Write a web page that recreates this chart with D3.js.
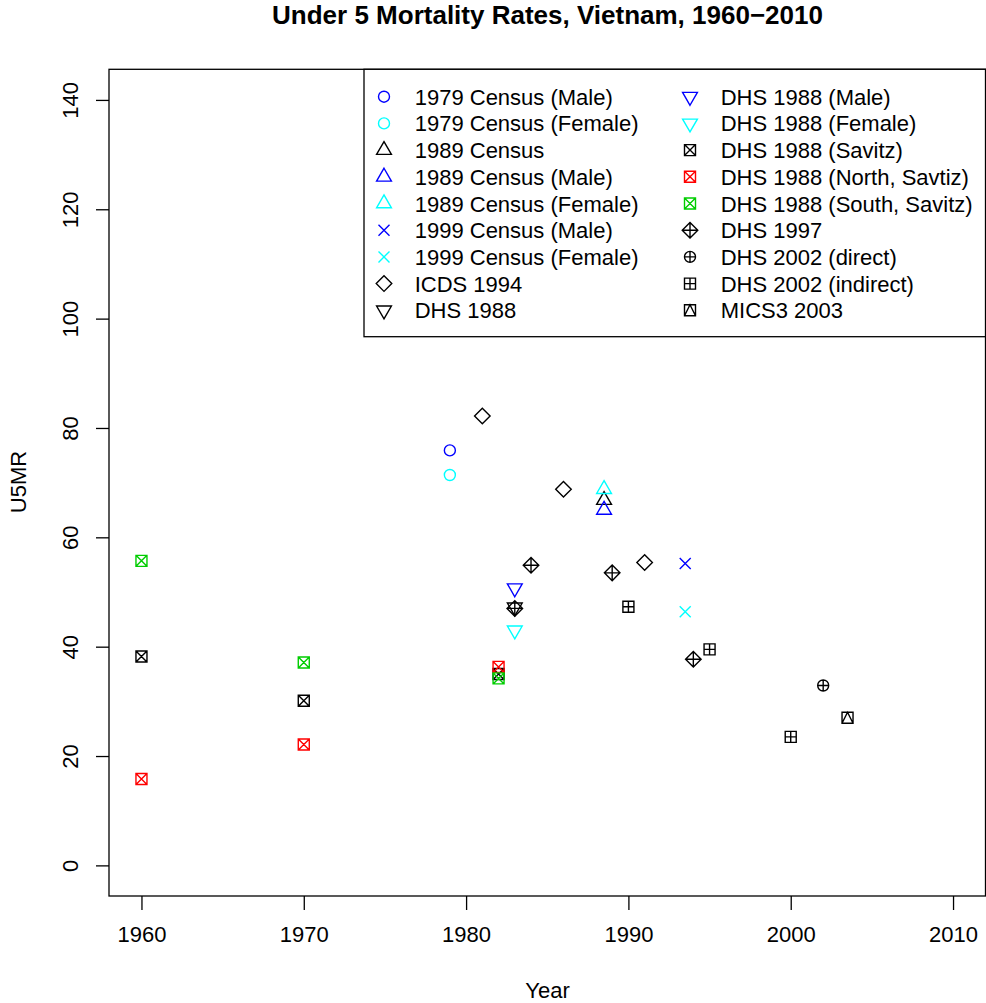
<!DOCTYPE html>
<html>
<head>
<meta charset="UTF-8">
<title>Under 5 Mortality Rates, Vietnam</title>
<script src="https://cdn.jsdelivr.net/npm/d3@7"></script>
<style>
  body { margin: 0; background: #fff; }
  svg text { font-family: "Liberation Sans", Arial, Helvetica, sans-serif; fill: #000; }
</style>
</head>
<body>
<svg id="chart" width="986" height="1003"></svg>
<script>
// series labels, in legend order (left column then right column)
var seriesLabels = [
  "1979 Census (Male)", "1979 Census (Female)", "1989 Census",
  "1989 Census (Male)", "1989 Census (Female)", "1999 Census (Male)",
  "1999 Census (Female)", "ICDS 1994", "DHS 1988",
  "DHS 1988 (Male)", "DHS 1988 (Female)", "DHS 1988 (Savitz)",
  "DHS 1988 (North, Savtiz)", "DHS 1988 (South, Savitz)", "DHS 1997",
  "DHS 2002 (direct)", "DHS 2002 (indirect)", "MICS3 2003"
];

// reference years of each estimate, per series
var seriesYears = [
  [1979], [1979], [1988.5],
  [1988.5], [1988.5], [1993.5],
  [1993.5], [1981, 1986, 1991], [1983],
  [1983], [1983], [1960, 1970, 1982],
  [1960, 1970, 1982], [1960, 1970, 1982], [1983, 1984, 1989, 1994],
  [2002], [1990, 1995, 2000], [2003.5]
];

// U5MR values, per series
var seriesValues = [
  [75.9], [71.4], [66.8],
  [65.0], [68.8], [55.2],
  [46.4], [82.2, 68.8, 55.4], [47.2],
  [50.7], [43.0], [38.2, 30.1, 35.0],
  [15.8, 22.1, 36.3], [55.7, 37.1, 34.2], [47.0, 54.9, 53.5, 37.7],
  [32.9], [47.3, 39.5, 23.5], [27.0]
];

// R plotting symbols and colours for each series
var seriesPch = [1, 1, 2, 2, 2, 4, 4, 5, 6, 6, 6, 7, 7, 7, 9, 10, 12, 14];
var seriesCol = ["#0000ff", "#00ffff", "#000000", "#0000ff", "#00ffff", "#0000ff",
  "#00ffff", "#000000", "#000000", "#0000ff", "#00ffff", "#000000",
  "#ff0000", "#00cd00", "#000000", "#000000", "#000000", "#000000"];

var xTicks = [1960, 1970, 1980, 1990, 2000, 2010];
var yTicks = [0, 20, 40, 60, 80, 100, 120, 140];

var svg = d3.select("#chart");

var x = d3.scaleLinear().domain([1958, 2012]).range([109, 985.5]);
var y = d3.scaleLinear().domain([-5.6, 145.6]).range([896, 69.3]);

// path for an R pch symbol centred at 0,0 (screen y down)
var U = 5.5;
function pchPath(pch) {
  var c = U, d = Math.SQRT2 * U;
  var TRC0 = Math.sqrt(4 * Math.PI / (3 * Math.sqrt(3)));
  var tr = TRC0 * U, tx = TRC0 * Math.sqrt(3) / 2 * U, ty = TRC0 / 2 * U;
  var circle = "M" + (-c) + ",0A" + c + "," + c + " 0 1,0 " + c + ",0A" + c + "," + c + " 0 1,0 " + (-c) + ",0Z";
  var square = "M" + (-c) + "," + (-c) + "H" + c + "V" + c + "H" + (-c) + "Z";
  var diamond = "M" + (-d) + ",0L0," + (-d) + "L" + d + ",0L0," + d + "Z";
  switch (pch) {
    case 1: return circle;
    case 2: return "M0," + (-tr) + "L" + tx + "," + ty + "L" + (-tx) + "," + ty + "Z";
    case 4: return "M" + (-c) + "," + (-c) + "L" + c + "," + c + "M" + (-c) + "," + c + "L" + c + "," + (-c);
    case 5: return diamond;
    case 6: return "M0," + tr + "L" + tx + "," + (-ty) + "L" + (-tx) + "," + (-ty) + "Z";
    case 7: return square + "M" + (-c) + "," + (-c) + "L" + c + "," + c + "M" + (-c) + "," + c + "L" + c + "," + (-c);
    case 9: return diamond + "M" + (-d) + ",0H" + d + "M0," + (-d) + "V" + d;
    case 10: return circle + "M" + (-c) + ",0H" + c + "M0," + (-c) + "V" + c;
    case 12: return square + "M" + (-c) + ",0H" + c + "M0," + (-c) + "V" + c;
    case 14: return square + "M" + (-c) + "," + c + "L0," + (-c) + "L" + c + "," + c;
  }
}

// points
seriesLabels.forEach(function(lab, i) {
  var pts = seriesYears[i].map(function(yr, j) { return [yr, seriesValues[i][j]]; });
  svg.append("g").selectAll("path")
    .data(pts)
    .enter().append("path")
    .attr("transform", function(p) { return "translate(" + x(p[0]) + "," + y(p[1]) + ")"; })
    .attr("d", pchPath(seriesPch[i]))
    .attr("fill", "none")
    .attr("stroke", seriesCol[i])
    .attr("stroke-width", 1.4);
});

// plot box
svg.append("rect")
  .attr("x", x(1958)).attr("y", y(145.6))
  .attr("width", x(2012) - x(1958)).attr("height", y(-5.6) - y(145.6))
  .attr("fill", "none").attr("stroke", "#000").attr("stroke-width", 1.3);

// axes
var xAxis = svg.append("g")
  .attr("transform", "translate(0," + y(-5.6) + ")")
  .call(d3.axisBottom(x).tickValues(xTicks).tickFormat(d3.format("d")).tickSize(14).tickPadding(16));
xAxis.selectAll("text").style("font-size", "22px");

var yAxis = svg.append("g")
  .attr("transform", "translate(" + x(1958) + ",0)")
  .call(d3.axisLeft(y).tickValues(yTicks).tickSize(13).tickPadding(0));
// rotated tick labels, as R draws them (las = 0)
yAxis.selectAll("text")
  .style("font-size", "22px")
  .attr("text-anchor", "middle")
  .attr("dy", null)
  .attr("x", 0).attr("y", 0)
  .attr("transform", "translate(-31,0) rotate(-90)");
[xAxis, yAxis].forEach(function(a) {
  a.select(".domain").remove();
  a.selectAll("line").attr("stroke", "#000").attr("stroke-width", 1.3);
});

// titles
svg.append("text").attr("x", 547.5).attr("y", 24)
  .attr("text-anchor", "middle").style("font-size", "26px").style("font-weight", "bold")
  .text("Under 5 Mortality Rates, Vietnam, 1960\u22122010");
svg.append("text").attr("x", 547.5).attr("y", 998)
  .attr("text-anchor", "middle").style("font-size", "22px").text("Year");
svg.append("text").attr("transform", "translate(26,482) rotate(-90)")
  .attr("text-anchor", "middle").style("font-size", "22px").text("U5MR");

// legend
var legend = svg.append("g");
legend.append("rect")
  .attr("x", 364).attr("y", 69.3).attr("width", 985.5 - 364).attr("height", 336.7 - 69.3)
  .attr("fill", "#fff").attr("stroke", "#000").attr("stroke-width", 1.3);
var rowH = 26.7;
seriesLabels.forEach(function(lab, i) {
  var col = Math.floor(i / 9), row = i % 9;
  var sx = col ? 690 : 384, ty = 96.7 + row * rowH;
  legend.append("path")
    .attr("transform", "translate(" + sx + "," + ty + ")")
    .attr("d", pchPath(seriesPch[i]))
    .attr("fill", "none").attr("stroke", seriesCol[i]).attr("stroke-width", 1.4);
  legend.append("text")
    .attr("x", col ? 720.7 : 414.7).attr("y", ty + 8)
    .style("font-size", "22px").text(lab);
});
</script>
</body>
</html>
